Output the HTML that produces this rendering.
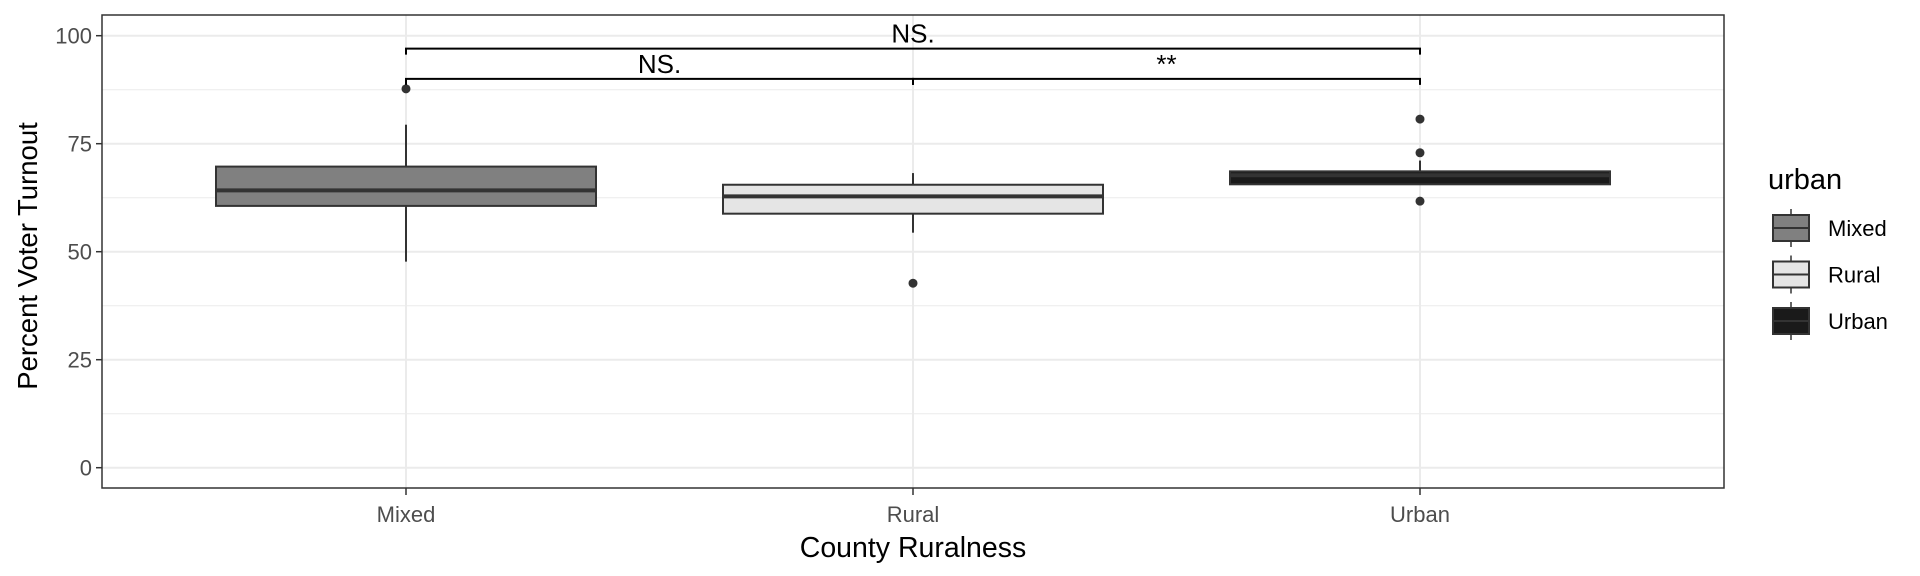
<!DOCTYPE html>
<html><head><meta charset="utf-8"><style>
html,body{margin:0;padding:0;background:#fff;}
svg{display:block;font-family:"Liberation Sans",Arial,sans-serif;}
</style></head><body>
<svg id="chart" width="1920" height="576" viewBox="0 0 1920 576" xmlns="http://www.w3.org/2000/svg"></svg>
<script>
const categories = ["Mixed","Rural","Urban"];
const fills = ["#808080","#e5e5e5","#1a1a1a"];
const q1 = [60.6, 58.8, 65.6];
const medians = [64.2, 62.8, 67.7];
const q3 = [69.7, 65.5, 68.6];
const whiskerLow = [47.7, 54.4, 65.6];
const whiskerHigh = [79.4, 68.2, 71.1];
const outliers = [[87.7],[42.7],[80.7,72.9,61.7]];
const yTicks = [0,25,50,75,100];
const yMinor = [12.5,37.5,62.5,87.5];
const brackets = [
  {from:0,to:2,y:97,label:"NS.",labelX:1},
  {from:0,to:1,y:90,label:"NS.",labelX:0.5},
  {from:1,to:2,y:90,label:"**",labelX:1.5}
];

const svg = document.getElementById('chart');
const NS = "http://www.w3.org/2000/svg";
const P = {l:102, r:1724, t:15, b:488};
function y(v){ return 467.7 - v*4.32; }
function x(i){ return 406 + i*507; }
const halfW = 190;
function el(tag, attrs, parent){
  const e = document.createElementNS(NS, tag);
  for (const k in attrs) e.setAttribute(k, attrs[k]);
  (parent||svg).appendChild(e);
  return e;
}

yMinor.forEach(v=>{
  const g = el('line',{x1:P.l,x2:P.r,y1:y(v),y2:y(v),stroke:'#ebebeb','stroke-width':1});
  
  
});
yTicks.forEach(v=>{
  const g = el('line',{x1:P.l,x2:P.r,y1:y(v),y2:y(v),stroke:'#ebebeb','stroke-width':2});
  
  
  const tm = el('line',{x1:P.l-6,x2:P.l,y1:y(v),y2:y(v),stroke:'#333','stroke-width':1.5});
  
  
  const t = el('text',{x:P.l-10,y:y(v)+8,'text-anchor':'end','font-size':22,fill:'#4d4d4d'});
  t.textContent = v;
  
  
});
categories.forEach((c,i)=>{
  const g = el('line',{x1:x(i),x2:x(i),y1:P.t,y2:P.b,stroke:'#ebebeb','stroke-width':2});
  
  
  const tm = el('line',{x1:x(i),x2:x(i),y1:P.b,y2:P.b+7,stroke:'#333','stroke-width':1.5});
  
  
  const t = el('text',{x:x(i),y:522,'text-anchor':'middle','font-size':22,fill:'#4d4d4d'});
  t.textContent = c;
  
  
});

categories.forEach((c,i)=>{
  const g = el('g',{});
  
  
  el('line',{x1:x(i),x2:x(i),y1:y(whiskerHigh[i]),y2:y(q3[i]),stroke:'#333','stroke-width':2},g);
  el('line',{x1:x(i),x2:x(i),y1:y(q1[i]),y2:y(whiskerLow[i]),stroke:'#333','stroke-width':2},g);
  el('rect',{x:x(i)-halfW,y:y(q3[i]),width:2*halfW,height:y(q1[i])-y(q3[i]),fill:fills[i],stroke:'#333','stroke-width':2},g);
  el('line',{x1:x(i)-halfW,x2:x(i)+halfW,y1:y(medians[i]),y2:y(medians[i]),stroke:'#333','stroke-width':4},g);
  outliers[i].forEach(v=>{
    const p = el('circle',{cx:x(i),cy:y(v),r:4.5,fill:'#333'},g);
    
    
  });
});

brackets.forEach(b=>{
  const g = el('g',{});
  
  
  const yy = y(b.y);
  el('path',{d:`M${x(b.from)},${yy+6}V${yy}H${x(b.to)}V${yy+6}`,fill:'none',stroke:'#000','stroke-width':2},g);
  const t = el('text',{x:406+b.labelX*507,y:yy-6,'text-anchor':'middle','font-size':26,fill:'#000'},g);
  t.textContent = b.label;
});

const border = el('rect',{x:P.l,y:P.t,width:P.r-P.l,height:P.b-P.t,fill:'none',stroke:'#333','stroke-width':1.5});



const xt = el('text',{x:913,y:557,'text-anchor':'middle','font-size':28.5,fill:'#000'});
xt.textContent = 'County Ruralness';


const yt = el('text',{x:0,y:0,'text-anchor':'middle','font-size':27.5,fill:'#000',transform:'translate(37,256) rotate(-90)'});
yt.textContent = 'Percent Voter Turnout';



const lg = el('g',{});


const lt = el('text',{x:1768,y:189,'font-size':29,fill:'#000'},lg);
lt.textContent = 'urban';
categories.forEach((c,i)=>{
  const cy = 228 + i*46.5;
  const e = el('g',{},lg);
  
  
  el('line',{x1:1791,x2:1791,y1:cy-19,y2:cy+19,stroke:'#333','stroke-width':1.5},e);
  el('rect',{x:1773,y:cy-13,width:36,height:26,fill:fills[i],stroke:'#333','stroke-width':2},e);
  el('line',{x1:1773,x2:1809,y1:cy,y2:cy,stroke:'#333','stroke-width':2},e);
  const t = el('text',{x:1828,y:cy+8,'font-size':22,fill:'#000'},e);
  t.textContent = c;
});
</script>
</body></html>
